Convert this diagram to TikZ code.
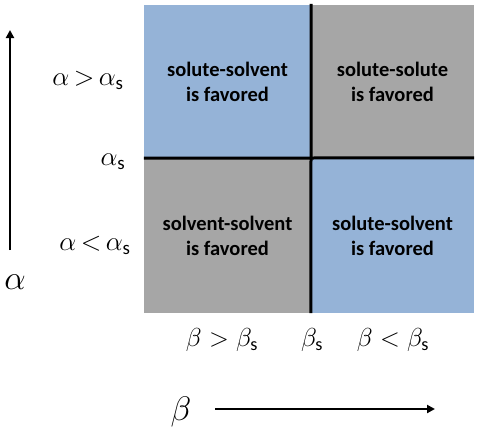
\RequirePackage{fix-cm}
\documentclass[tikz,border=0pt]{standalone}
\usepackage{amsmath}
\usepackage{fontspec}
\setmainfont{Carlito}
\usetikzlibrary{positioning, arrows.meta, calc}

\definecolor{quadblue}{HTML}{95B3D7}
\definecolor{quadgray}{HTML}{A6A6A6}

\begin{document}
\begin{tikzpicture}[
  x=1pt, y=-1pt,
  quad/.style={
    rectangle, draw=none, fill=#1,
    minimum width=165pt, minimum height=154pt,
    align=center, inner sep=0pt,
    font=\fontsize{20.5}{25}\selectfont\bfseries,
  },
  divider/.style={line width=3pt, black},
  axis/.style={-{Triangle[length=8pt, width=8pt]}, line width=2pt, black},
  alab/.style={font=\fontsize{27}{30}\selectfont, inner sep=0pt},
  blab/.style={font=\fontsize{26}{28}\selectfont, inner sep=0pt},
  axlab/.style={font=\fontsize{34}{38}\selectfont, inner sep=0pt},
]
\useasboundingbox (0,0) rectangle (482,432);

% Four quadrants, blue on one diagonal, gray on the other.
\node[quad=quadblue, minimum width=167pt, minimum height=153pt] (tl) at (227.5,81.5)  {solute-solvent\\is favored};
\node[quad=quadgray, minimum width=163pt, minimum height=153pt] (tr) at (392.5,81.5)  {solute-solute\\is favored};
\node[quad=quadgray, minimum width=167pt, minimum height=155pt] (bl) at (227.5,235.5) {solvent-solvent\\is favored};
\node[quad=quadblue, minimum width=163pt, minimum height=155pt] (br) at (392.5,235.5) {solute-solvent\\is favored};

% Thick dividing lines.
\draw[divider] ([yshift=1pt]tl.north east) -- (br.south west);
\draw[divider] (tl.south west) -- (br.north east);

% Alpha labels on the left.
\node[alab] (aup)   at (88,80)   {$\alpha \mathrel{\mkern-2mu>\mkern-2mu} \alpha_{\text{s}}$};
\node[alab] (as)    at (113,162) {$\alpha_{\text{s}}$};
\node[alab] (adown) at (95,245)  {$\alpha \mathrel{\mkern-2mu<\mkern-2mu} \alpha_{\text{s}}$};
\node[axlab] (aaxis) at (15,282) {$\alpha$};
\coordinate (abot) at (10,250);
\coordinate (atop) at (10,30);
\draw[axis] (abot) -- (atop);

% Beta labels underneath.
\node[blab] (bup)   at (222,340) {$\beta > \beta_{\text{s}}$};
\node[blab] (bs)    at (312,340) {$\beta_{\text{s}}$};
\node[blab] (bdown) at (393,340) {$\beta < \beta_{\text{s}}$};
\node[axlab] (baxis) at (181,412) {$\beta$};
\coordinate (bstart) at (215,409);
\coordinate (bend) at (435,409);
\draw[axis] (bstart) -- (bend);

\end{tikzpicture}
\end{document}
